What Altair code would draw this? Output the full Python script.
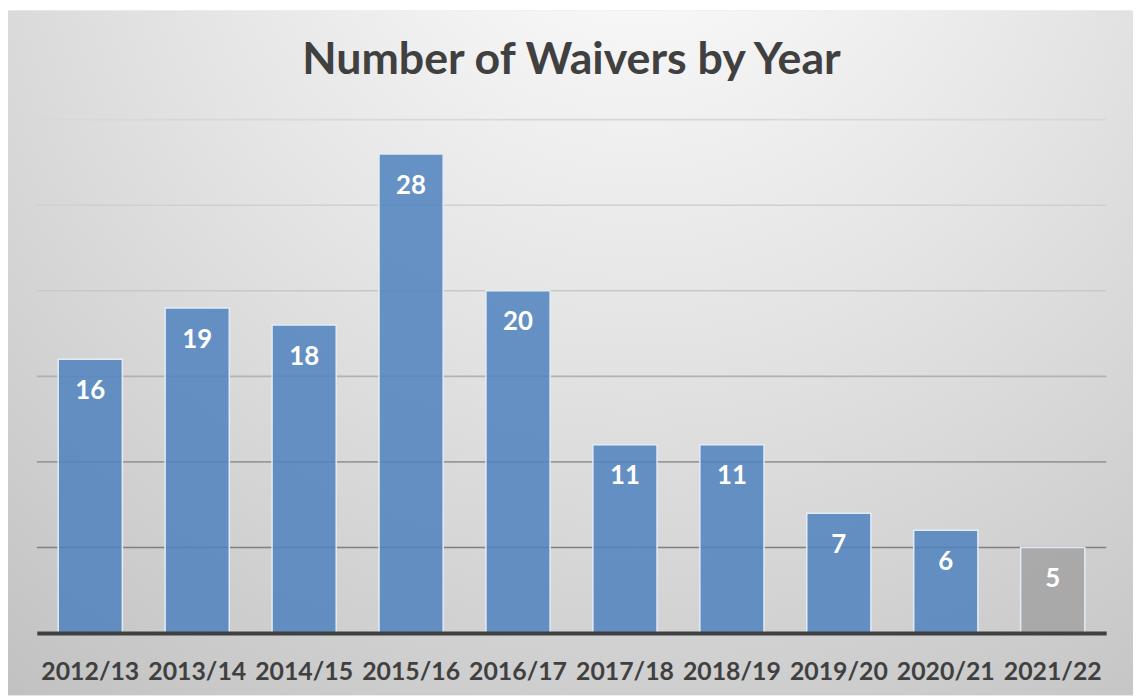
import altair as alt
import pandas as pd

years = ["2012/13", "2013/14", "2014/15", "2015/16", "2016/17",
         "2017/18", "2018/19", "2019/20", "2020/21", "2021/22"]
waivers = [16, 19, 18, 28, 20, 11, 11, 7, 6, 5]
partial_year = "2021/22"
grid_values = [5, 10, 15, 20, 25, 30]

W, H = 1077, 517
PL, PT, PR, PB = 29, 110, 27, 63

df = pd.DataFrame({"year": years, "count": waivers})
grid_df = pd.DataFrame({"g": grid_values})

bg_grad = {
    "gradient": "radial",
    "x1": 0.56, "y1": 0.06, "r1": 0,
    "x2": 0.56, "y2": 0.06, "r2": 0.95,
    "stops": [
        {"offset": 0, "color": "#ffffff"},
        {"offset": 0.45, "color": "#e4e4e4"},
        {"offset": 1, "color": "#c0c0c0"},
    ],
}

bg = alt.Chart(pd.DataFrame({"a": [0]})).mark_rect(fill=bg_grad).encode(
    x=alt.value(-PL), x2=alt.value(W + PR),
    y=alt.value(-PT), y2=alt.value(H + PB),
)

yscale = alt.Scale(domain=[0, 30], nice=False)

grid = alt.Chart(grid_df).mark_rule(strokeWidth=1.6).encode(
    y=alt.Y("g:Q", scale=yscale, axis=None),
    color=alt.Color("g:Q", scale=alt.Scale(domain=[5, 15, 20, 30],
                                           range=["#808080", "#b2b2b2", "#c8c8c8", "#d8d8d8"]),
                    legend=None),
)

xenc = alt.X("year:N", sort=years, title=None,
             scale=alt.Scale(paddingInner=0.4, paddingOuter=0.2),
             axis=alt.Axis(labelAngle=0, labelFont="Lato", labelFontWeight="bold",
                           labelFontSize=25, labelColor="#404040", ticks=False, tickSize=0,
                           domainColor="#404040", domainWidth=4, labelPadding=47,
                           labelBaseline="alphabetic", zindex=1, grid=False))

bars = alt.Chart(df).mark_bar(fillOpacity=0.86, stroke="#e3ebf5", strokeWidth=1.5).encode(
    x=xenc,
    y=alt.Y("count:Q", scale=yscale, axis=None),
    fill=alt.condition(alt.datum.year == partial_year, alt.value("#a3a3a3"), alt.value("#4f82be")),
)

labels = alt.Chart(df).mark_text(color="white", font="Lato", fontWeight="bold", fontSize=26,
                                 baseline="alphabetic", dy=40).encode(
    x=alt.X("year:N", sort=years),
    y=alt.Y("count:Q", scale=yscale),
    text="count:Q",
)

chart = alt.layer(bg, grid, bars, labels).properties(
    width=W, height=H,
    title=alt.Title("Number of Waivers by Year", font="Lato", fontSize=45, fontWeight="bold",
                    color="#404040", anchor="middle", offset=-73),
    autosize=alt.AutoSizeParams(type="none"),
    padding={"left": PL, "top": PT, "right": PR, "bottom": PB},
).configure_view(stroke=None).configure(background="white")

chart.save("out.html", embed_options={"renderer": "svg", "actions": False})
